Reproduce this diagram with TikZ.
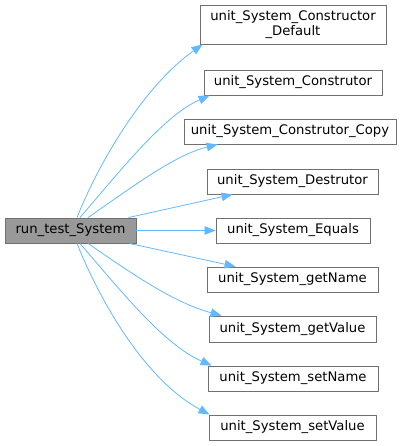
\documentclass[tikz,border=0pt]{standalone}
\usepackage{fontspec}
\setmainfont{DejaVu Sans}
\usetikzlibrary{arrows.meta}
\definecolor{edgeblue}{HTML}{63B8FF}
\definecolor{boxborder}{HTML}{707070}
\definecolor{rootfill}{HTML}{999999}
\begin{document}
\begin{tikzpicture}[x=1pt,y=-1pt,
  fn/.style={draw=boxborder,fill=white,line width=0.9pt,inner sep=0pt,
    font=\fontsize{13.2}{15}\selectfont,align=center},
  rootbox/.style={fn,fill=rootfill},
  call/.style={draw=edgeblue,line width=0.8pt,-{Triangle[length=11pt,width=8.5pt]}}]
\useasboundingbox (0,0) rectangle (408,446);
\node[rootbox,minimum width=131pt,minimum height=25pt] (main) at (70.5,230.5) {run\_test\_System};
\node[fn,minimum width=186pt,minimum height=39pt] (b1) at (293,24.5) {unit\_System\_Constructor\\\_Default};
\node[fn,minimum width=178pt,minimum height=25pt] (b2) at (293,82.5) {unit\_System\_Construtor};
\node[fn,minimum width=212pt,minimum height=25pt] (b3) at (290,131.5) {unit\_System\_Construtor\_Copy};
\node[fn,minimum width=171pt,minimum height=25pt] (b4) at (292.5,181.5) {unit\_System\_Destrutor};
\node[fn,minimum width=154pt,minimum height=25pt] (b5) at (293,230.5) {unit\_System\_Equals};
\node[fn,minimum width=171pt,minimum height=25pt] (b6) at (292.5,279.5) {unit\_System\_getName};
\node[fn,minimum width=167pt,minimum height=26pt] (b7) at (292.5,329) {unit\_System\_getValue};
\node[fn,minimum width=170pt,minimum height=25pt] (b8) at (293,378.5) {unit\_System\_setName};
\node[fn,minimum width=167pt,minimum height=25pt] (b9) at (292.5,427.5) {unit\_System\_setValue};

\draw[call] ([xshift=6.5pt]main.north) .. controls (100,160) and (145,85) .. ([xshift=3pt]b1.south west);
\draw[call] ([xshift=9.5pt]main.north) .. controls (125,165) and (165,115) .. ([xshift=6pt]b2.south west);
\draw[call] ([xshift=17.5pt]main.north) .. controls (135,185) and (175,155) .. ([xshift=34pt]b3.south west);
\draw[call] ([xshift=-8pt]main.north east) -- ([xshift=26pt]b4.south west);
\draw[call] (main.east) -- (b5.west);
\draw[call] ([xshift=-7pt]main.south east) -- ([xshift=29pt]b6.north west);
\draw[call] ([xshift=17.5pt]main.south) .. controls (135,276) and (175,303) .. ([xshift=13pt]b7.north west);
\draw[call] ([xshift=9.5pt]main.south) .. controls (125,296) and (165,345) .. ([xshift=4pt]b8.north west);
\draw[call] ([xshift=6.5pt]main.south) .. controls (100,301) and (145,380) .. ([xshift=1pt]b9.north west);
\end{tikzpicture}
\end{document}
